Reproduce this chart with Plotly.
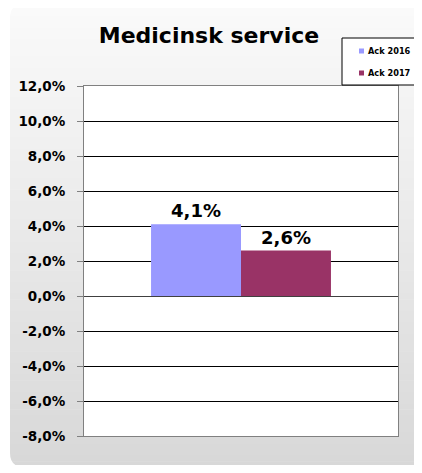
import plotly.graph_objects as go

categories = ["Medicinsk service"]
series_names = ["Ack 2016", "Ack 2017"]
values_2016 = [0.041]
values_2017 = [0.026]
series_colors = ["#9999ff", "#993366"]
tick_vals = [-0.08, -0.06, -0.04, -0.02, 0.0, 0.02, 0.04, 0.06, 0.08, 0.10, 0.12]
tick_text = ["-8,0%", "-6,0%", "-4,0%", "-2,0%", "0,0%", "2,0%", "4,0%",
             "6,0%", "8,0%", "10,0%", "12,0%"]

# page body adds an 8px offset; figure coordinates = screen - 8
OFF = 8
W, H = 406, 457
L, R, T, B = 84 - OFF, 398 - OFF, 86 - OFF, 436 - OFF

FONT = "DejaVu Sans, Liberation Sans, Arial"

def px(x):
    return (x - OFF - L) / (R - L)

def py(y):
    return (B - (y - OFF)) / (B - T)

fig = go.Figure()
for name, vals, col in zip(series_names, [values_2016, values_2017], series_colors):
    fig.add_trace(go.Bar(
        x=categories, y=vals, name=name, marker_color=col,
        marker_line_width=0, showlegend=False,
        texttemplate="%{y:.1%}", textposition="outside",
        textfont=dict(family=FONT, size=18, color="black", weight="bold"),
        cliponaxis=False,
    ))

shapes = []
annotations = []
# background gradient frame (screen px)
top, bot, left, right = 4, 467, 10, 440
n = 80
c0, c1 = 250, 216
for i in range(n):
    y0 = top + (bot - top) * i / n
    y1 = top + (bot - top) * (i + 1) / n + 0.6
    c = round(c0 + (c1 - c0) * i / (n - 1))
    shapes.append(dict(type="rect", xref="paper", yref="paper", layer="below",
                       x0=px(left), x1=px(right), y0=py(y1), y1=py(y0),
                       fillcolor=f"rgb({c},{c},{c})", line_width=0))
r = 14
for (cx, cy, sx, sy) in [(left, top, 1, 1), (left, bot, 1, -1)]:
    p = (f"M {px(cx)},{py(cy)} L {px(cx + sx*r)},{py(cy)} "
         f"Q {px(cx)},{py(cy)} {px(cx)},{py(cy + sy*r)} Z")
    shapes.append(dict(type="path", xref="paper", yref="paper", layer="below",
                       path=p, fillcolor="white", line_width=0))
shapes.append(dict(type="rect", xref="paper", yref="paper", layer="below",
                   x0=0, x1=1, y0=0, y1=1, fillcolor="white", line_width=0))

# legend box
shapes.append(dict(type="rect", xref="paper", yref="paper", layer="above",
                   x0=px(342), x1=px(440), y0=py(85), y1=py(38),
                   fillcolor="white", line=dict(color="black", width=1)))
for i, (name, col) in enumerate(zip(series_names, series_colors)):
    yc = 51 + 22 * i
    shapes.append(dict(type="rect", xref="paper", yref="paper", layer="above",
                       x0=px(359), x1=px(364), y0=py(yc + 2.5), y1=py(yc - 2.5),
                       fillcolor=col, line_width=0))
    annotations.append(dict(xref="paper", yref="paper", x=px(366), y=py(yc),
                            xanchor="left", yanchor="middle", showarrow=False,
                            text=f"<b>{name}</b>",
                            font=dict(size=8.2, family=FONT, color="black")))

fig.update_layout(
    width=W, height=H,
    margin=dict(l=L, r=W - R, t=T, b=H - B, pad=0, autoexpand=False),
    paper_bgcolor="white", plot_bgcolor="rgba(0,0,0,0)",
    separators=", ",
    barmode="group", bargap=0.427, bargroupgap=0,
    font=dict(family=FONT, color="black"),
    title=dict(text="<b>Medicinsk service</b>", x=(209 - OFF) / W, xanchor="center",
               y=1 - (35 - OFF) / H, yanchor="middle",
               font=dict(size=22, family=FONT, color="black")),
    showlegend=False,
    shapes=shapes,
    annotations=annotations,
    xaxis=dict(showticklabels=False, ticks="", showgrid=False, zeroline=False,
               showline=True, linecolor="#808080", linewidth=1, mirror=True),
    yaxis=dict(range=[-0.08, 0.12], tickvals=tick_vals, ticktext=tick_text,
               showgrid=True, gridcolor="black", gridwidth=1,
               zeroline=True, zerolinecolor="#404040", zerolinewidth=1,
               showline=True, linecolor="#808080", linewidth=1, mirror=True,
               ticks="outside", ticklen=6, tickcolor="#808080",
               ticklabelstandoff=9,
               tickfont=dict(size=13.5, family=FONT, color="black", weight="bold")),
)

fig.write_html("out.html")
